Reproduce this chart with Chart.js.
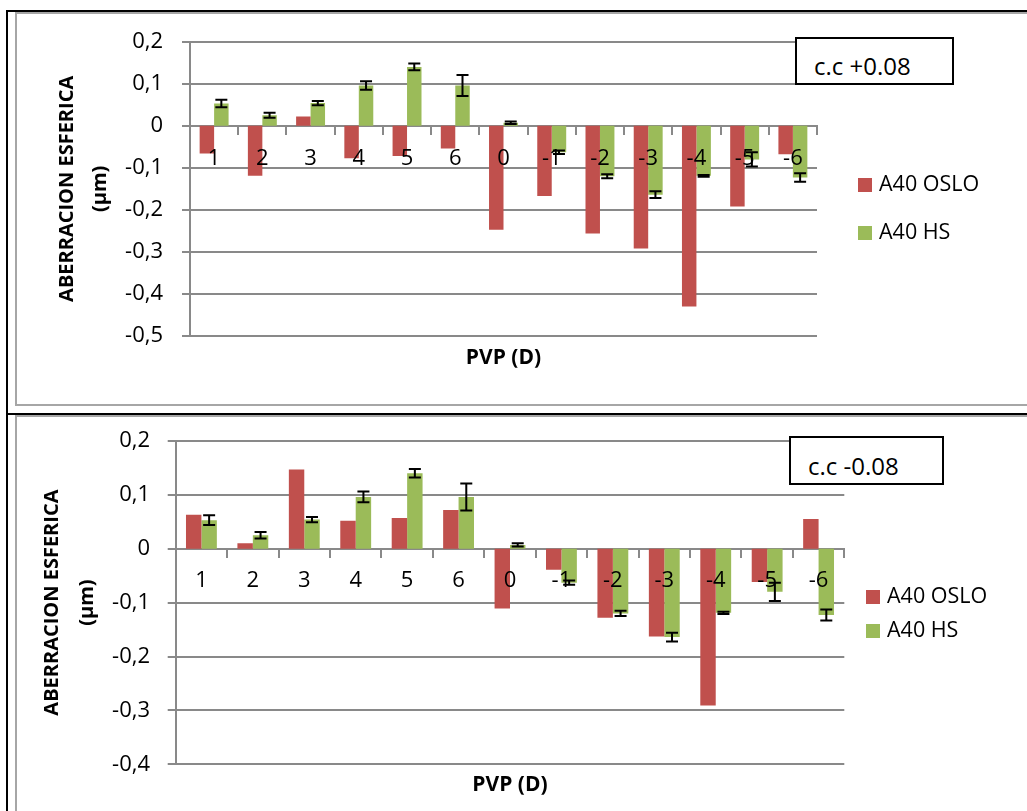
<!DOCTYPE html>
<html>
<head>
<meta charset="utf-8">
<script src="https://cdn.jsdelivr.net/npm/chart.js@4"></script>
<style>
  body { margin:0; background:#fff; width:1027px; height:811px; overflow:hidden; position:relative; font-family:'Open Sans', sans-serif; }
  .line { position:absolute; background:#000; }
  .frame { position:absolute; border:2px solid #a6a6a6; box-sizing:border-box; }
  canvas { position:absolute; left:0; }
  .note { position:absolute; border:2px solid #000; background:#fff; box-sizing:border-box; font-size:24px; line-height:33px; color:#000; padding-left:17px; z-index:5; }
</style>
</head>
<body>
<div class="line" style="left:6px;top:10px;width:2px;height:801px"></div>
<div class="line" style="left:6px;top:10px;width:1021px;height:2px"></div>
<div class="frame" style="left:15px;top:12px;width:1100px;height:394px"></div>
<div class="line" style="left:6px;top:413px;width:1021px;height:2px"></div>
<div class="frame" style="left:15px;top:415px;width:1100px;height:500px"></div>

<canvas id="chartPlus" width="1027" height="410" style="top:0"></canvas>
<canvas id="chartMinus" width="1027" height="401" style="top:410px"></canvas>

<div class="note" style="left:795px;top:37px;width:159px;height:48px;padding-top:10px">c.c +0.08</div>
<div class="note" style="left:789px;top:436px;width:155px;height:49px;padding-top:11px">c.c -0.08</div>

<script>
const categories = ['1', '2', '3', '4', '5', '6', '0', '-1', '-2', '-3', '-4', '-5', '-6'];
const osloPlus = [-0.066, -0.119, 0.022, -0.077, -0.072, -0.054, -0.247, -0.167, -0.256, -0.292, -0.430, -0.192, -0.068];
const osloMinus = [0.063, 0.010, 0.147, 0.052, 0.057, 0.072, -0.111, -0.039, -0.128, -0.163, -0.291, -0.062, 0.055];
const hsValues = [0.053, 0.025, 0.054, 0.096, 0.140, 0.096, 0.007, -0.063, -0.120, -0.164, -0.119, -0.080, -0.123];
const hsErrors = [0.009, 0.006, 0.005, 0.010, 0.008, 0.025, 0.003, 0.004, 0.005, 0.008, 0.002, 0.017, 0.010];
const seriesNames = ['A40 OSLO', 'A40 HS'];
const seriesColors = ['#C0504D', '#9BBB59'];
const yTitle = ['ABERRACION ESFERICA', '(µm)'];
const xTitle = 'PVP (D)';

const gridGray = '#898989';
const font = "'Open Sans', sans-serif";

// black whiskers on the HS bars
const errorBars = {
    id: 'errorBars',
    afterDatasetsDraw(chart) {
        const ctx = chart.ctx;
        const y = chart.scales.y;
        chart.data.datasets.forEach((ds, i) => {
            if (!ds.errors) return;
            chart.getDatasetMeta(i).data.forEach((bar, j) => {
                const top = y.getPixelForValue(ds.data[j] + ds.errors[j]);
                const bot = y.getPixelForValue(ds.data[j] - ds.errors[j]);
                ctx.save();
                ctx.strokeStyle = '#000';
                ctx.lineWidth = 2;
                ctx.beginPath();
                ctx.moveTo(bar.x, top); ctx.lineTo(bar.x, bot);
                ctx.moveTo(bar.x - 6, top); ctx.lineTo(bar.x + 6, top);
                ctx.moveTo(bar.x - 6, bot); ctx.lineTo(bar.x + 6, bot);
                ctx.stroke();
                ctx.restore();
            });
        });
    }
};

// excel style legend on the right
const sideLegend = {
    id: 'sideLegend',
    afterDraw(chart, args, opts) {
        const ctx = chart.ctx;
        ctx.save();
        ctx.font = '21.5px ' + font;
        ctx.textBaseline = 'middle';
        chart.data.datasets.forEach((ds, i) => {
            const cy = opts.y + i * opts.gap;
            ctx.fillStyle = ds.backgroundColor;
            ctx.fillRect(opts.x, cy - 7, 14, 14);
            ctx.fillStyle = '#000';
            ctx.fillText(ds.label, opts.x + 21, cy);
        });
        ctx.restore();
    }
};

function makeChart(id, oslo, g) {
    return new Chart(document.getElementById(id), {
        type: 'bar',
        data: {
            labels: categories,
            datasets: [{
                label: seriesNames[0],
                data: oslo,
                backgroundColor: seriesColors[0]
            }, {
                label: seriesNames[1],
                data: hsValues,
                errors: hsErrors,
                backgroundColor: seriesColors[1]
            }]
        },
        options: {
            responsive: false,
            animation: false,
            categoryPercentage: 0.6,
            barPercentage: 1.0,
            layout: { padding: { left: 0, top: g.top, right: g.right, bottom: 0 } },
            plugins: {
                legend: { display: false },
                tooltip: { enabled: false },
                sideLegend: { x: g.legX, y: g.legY, gap: g.legGap }
            },
            scales: {
                x: {
                    position: { y: 0 },
                    grid: { drawOnChartArea: false, drawTicks: true, tickLength: 8, color: gridGray, lineWidth: 2 },
                    border: { display: true, color: gridGray, width: 2 },
                    ticks: { z: 1, color: '#000', font: { family: font, size: 22 }, padding: g.xPad, maxRotation: 0, autoSkip: false },
                    afterFit(s) { s.height = 0; }
                },
                x2: {
                    type: 'category',
                    position: 'bottom',
                    grid: { display: false },
                    border: { display: false },
                    ticks: { display: false },
                    title: { display: true, text: xTitle, color: '#000', font: { family: font, size: 21, weight: 'bold' }, padding: { top: 0, bottom: g.xTitlePad } },
                    afterFit(s) { s.height = g.bottomH; }
                },
                y: {
                    min: g.yMin,
                    max: 0.2,
                    ticks: {
                        stepSize: 0.1,
                        color: '#000',
                        padding: g.yPad,
                        font: { family: font, size: 22 },
                        callback: v => {
                            const r = Math.round(v * 10) / 10;
                            return r === 0 ? '0' : r.toFixed(1).replace('.', ',');
                        }
                    },
                    grid: { color: gridGray, lineWidth: 2, tickLength: 8 },
                    border: { display: true, color: gridGray, width: 2 },
                    title: { display: true, text: yTitle, color: '#000', font: { family: font, size: 20, weight: 'bold', lineHeight: g.yLH }, padding: { top: g.yTitlePad, bottom: 0 } },
                    afterFit(s) { s.width = g.yWidth; }
                }
            }
        },
        plugins: [errorBars, sideLegend]
    });
}

makeChart('chartPlus', osloPlus, {
    yMin: -0.5, top: 41.7, right: 210, yWidth: 190, bottomH: 74,
    yPad: 19, xPad: 12, yLH: 1.65, yTitlePad: 51, xTitlePad: 39,
    legX: 858, legY: 185, legGap: 48
});
makeChart('chartMinus', osloMinus, {
    yMin: -0.4, top: 25.3, right: 182.7, yWidth: 175.7, bottomH: 46.7,
    yPad: 17.7, xPad: 11, yLH: 1.75, yTitlePad: 34.5, xTitlePad: 13,
    legX: 866, legY: 187, legGap: 34
});
</script>
</body>
</html>
